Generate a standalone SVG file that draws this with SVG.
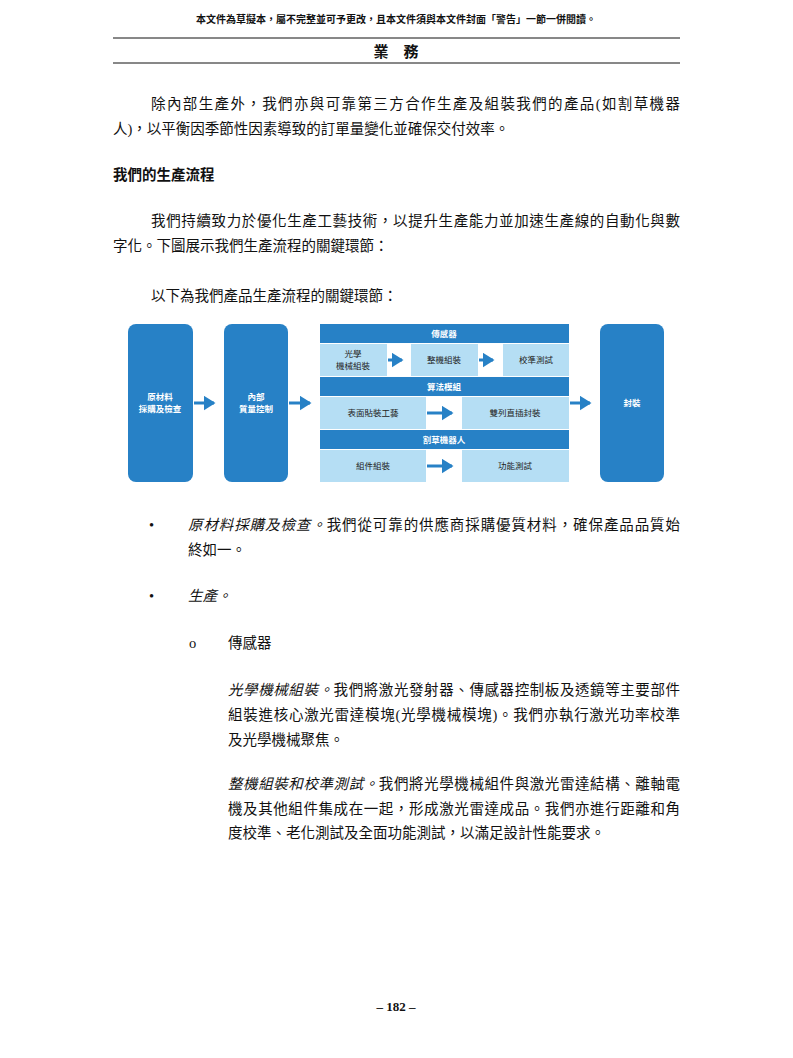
<svg xmlns="http://www.w3.org/2000/svg" width="793" height="1058" viewBox="0 0 793 1058">
<style>
text{font-family:"Liberation Serif","Noto Sans CJK TC",serif;fill:#111}
.b{font-size:14.5px}
.i{font-style:italic}
.d{fill:#2781c6}
.l{fill:#b5def4}
.w{fill:#fff;font-family:"Liberation Sans","Noto Sans CJK TC",sans-serif;font-size:8.5px;font-weight:bold;text-anchor:middle}
.k{font-family:"Liberation Sans","Noto Sans CJK TC",sans-serif;font-size:8.5px;text-anchor:middle;fill:#222}
.c{stroke:#2781c6;stroke-width:3;fill:none;marker-end:url(#a)}
</style>
<defs><marker id="a" markerWidth="4" markerHeight="5" refX="3.5" refY="2.5" orient="auto" markerUnits="strokeWidth"><path d="M0,0L4,2.5L0,5z" fill="#2781c6"/></marker></defs>
<rect width="793" height="1058" fill="#fff"/>
<text x="396" y="23" text-anchor="middle" style="font-family:'Liberation Sans','Noto Sans CJK TC',sans-serif;font-size:10px;font-weight:bold">本文件為草擬本，屬不完整並可予更改，且本文件須與本文件封面「警告」一節一併閱讀。</text>
<line x1="113" y1="38" x2="680" y2="38" stroke="#111" stroke-width="1"/>
<text x="396" y="57" text-anchor="middle" style="font-size:15px;font-weight:bold;font-family:'Liberation Sans','Noto Sans CJK TC',sans-serif">業　務</text>
<line x1="113" y1="63" x2="680" y2="63" stroke="#111" stroke-width="1"/>
<text class="b" x="151" y="109" textLength="529" lengthAdjust="spacing">除內部生產外，我們亦與可靠第三方合作生產及組裝我們的產品(如割草機器</text>
<text class="b" x="113" y="134">人)，以平衡因季節性因素導致的訂單量變化並確保交付效率。</text>
<text x="113" y="180" style="font-size:14.5px;font-weight:bold;font-family:'Liberation Sans','Noto Sans CJK TC',sans-serif">我們的生產流程</text>
<text class="b" x="151" y="226" textLength="529" lengthAdjust="spacing">我們持續致力於優化生產工藝技術，以提升生產能力並加速生產線的自動化與數</text>
<text class="b" x="113" y="251">字化。下圖展示我們生產流程的關鍵環節：</text>
<text class="b" x="151" y="301">以下為我們產品生產流程的關鍵環節：</text>

<g id="n1"><rect class="d" x="128" y="324" width="65" height="158" rx="8"/><text class="w" x="160" y="400">原材料</text><text class="w" x="160" y="412">採購及檢查</text></g>
<g id="n2"><rect class="d" x="224" y="324" width="64" height="158" rx="8"/><text class="w" x="256" y="400">內部</text><text class="w" x="256" y="412">質量控制</text></g>
<g id="h1"><rect class="d" x="320" y="324" width="249" height="19"/><text class="w" x="444" y="337">傳感器</text></g>
<g id="s1"><rect class="l" x="320" y="344" width="67" height="32"/><text class="k" x="353" y="357">光學</text><text class="k" x="353" y="369">機械組裝</text></g>
<g id="s2"><rect class="l" x="411" y="344" width="67" height="32"/><text class="k" x="444" y="363">整機組裝</text></g>
<g id="s3"><rect class="l" x="503" y="344" width="66" height="32"/><text class="k" x="536" y="363">校準測試</text></g>
<g id="h2"><rect class="d" x="320" y="377" width="249" height="19"/><text class="w" x="444" y="390">算法模組</text></g>
<g id="s4"><rect class="l" x="320" y="397" width="106" height="32"/><text class="k" x="373" y="416">表面貼裝工藝</text></g>
<g id="s5"><rect class="l" x="462" y="397" width="107" height="32"/><text class="k" x="515" y="416">雙列直插封裝</text></g>
<g id="h3"><rect class="d" x="320" y="430" width="249" height="19"/><text class="w" x="444" y="443">割草機器人</text></g>
<g id="s6"><rect class="l" x="320" y="450" width="106" height="32"/><text class="k" x="373" y="469">組件組裝</text></g>
<g id="s7"><rect class="l" x="462" y="450" width="107" height="32"/><text class="k" x="515" y="469">功能測試</text></g>
<g id="n4"><rect class="d" x="600" y="324" width="64" height="158" rx="8"/><text class="w" x="632" y="406">封裝</text></g>
<g id="connectors">
<line class="c" x1="194" y1="403" x2="214" y2="403"/>
<line class="c" x1="289" y1="403" x2="310" y2="403"/>
<line class="c" x1="388" y1="360" x2="402" y2="360"/>
<line class="c" x1="479" y1="360" x2="493" y2="360"/>
<line class="c" x1="427" y1="413" x2="452" y2="413"/>
<line class="c" x1="427" y1="466" x2="452" y2="466"/>
<line class="c" x1="570" y1="403" x2="590" y2="403"/>
</g>

<text class="b" x="149" y="530">•</text>
<text class="b" x="188" y="530" textLength="492" lengthAdjust="spacing"><tspan class="i">原材料採購及檢查。</tspan>我們從可靠的供應商採購優質材料，確保產品品質始</text>
<text class="b" x="188" y="555">終如一。</text>
<text class="b" x="149" y="601">•</text>
<text class="b i" x="188" y="601">生產。</text>
<text class="b" x="189" y="648">o</text>
<text class="b" x="228" y="648">傳感器</text>
<text class="b" x="228" y="695" textLength="452" lengthAdjust="spacing"><tspan class="i">光學機械組裝。</tspan>我們將激光發射器、傳感器控制板及透鏡等主要部件</text>
<text class="b" x="228" y="720" textLength="452" lengthAdjust="spacing">組裝進核心激光雷達模塊(光學機械模塊)。我們亦執行激光功率校準</text>
<text class="b" x="228" y="745">及光學機械聚焦。</text>
<text class="b" x="228" y="789" textLength="452" lengthAdjust="spacing"><tspan class="i">整機組裝和校準測試。</tspan>我們將光學機械組件與激光雷達結構、離軸電</text>
<text class="b" x="228" y="814" textLength="452" lengthAdjust="spacing">機及其他組件集成在一起，形成激光雷達成品。我們亦進行距離和角</text>
<text class="b" x="228" y="838">度校準、老化測試及全面功能測試，以滿足設計性能要求。</text>
<text x="396" y="1011" text-anchor="middle" style="font-size:13px;font-weight:bold">– 182 –</text>
</svg>
